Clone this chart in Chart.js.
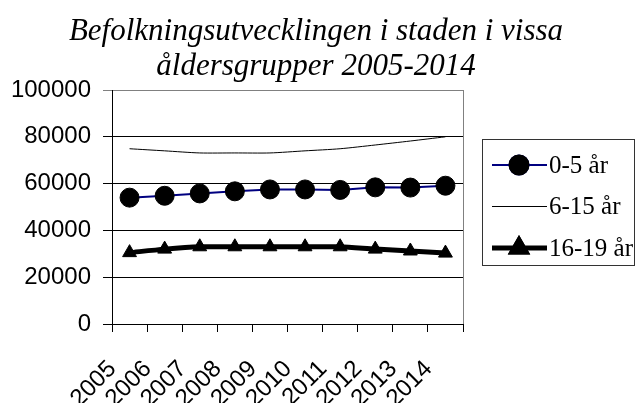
<!DOCTYPE html>
<html>
<head>
<meta charset="utf-8">
<script src="https://cdn.jsdelivr.net/npm/chart.js@4"></script>
<style>
  html, body { margin: 0; padding: 0; background: #fff; }
  #wrap { width: 639px; height: 403px; }
</style>
</head>
<body>
<div id="wrap"><canvas id="popChart" width="639" height="403"></canvas></div>
<script>
// data
const years = ['2005', '2006', '2007', '2008', '2009', '2010', '2011', '2012', '2013', '2014'];
const age0to5 = [54000, 54800, 55800, 56700, 57500, 57500, 57300, 58400, 58300, 59100];
const age6to15 = [74900, 74000, 73100, 73100, 73100, 74000, 74900, 76500, 78200, 80000];
const age16to19 = [30500, 32000, 33000, 33000, 33000, 33000, 33000, 32000, 31200, 30300];
const titleLines = ['Befolkningsutvecklingen i staden i vissa', 'åldersgrupper 2005-2014'];

// title, legend box and the grey right frame line
const extras = {
    id: 'extras',
    afterDraw(chart) {
        const ctx = chart.ctx;
        const area = chart.chartArea;
        ctx.save();

        // right frame
        ctx.strokeStyle = '#808080';
        ctx.lineWidth = 1;
        ctx.beginPath();
        ctx.moveTo(area.right + 0.5, area.top);
        ctx.lineTo(area.right + 0.5, area.bottom);
        ctx.stroke();

        // title
        ctx.fillStyle = '#000';
        ctx.font = 'italic 31px "Liberation Serif", "Times New Roman", serif';
        ctx.textAlign = 'center';
        ctx.textBaseline = 'alphabetic';
        titleLines.forEach((line, i) => ctx.fillText(line, 316, 40 + i * 35));

        // legend
        const box = { x: 482, y: 139, w: 152, h: 126 };
        ctx.strokeStyle = '#333';
        ctx.strokeRect(box.x + 0.5, box.y + 0.5, box.w, box.h);
        ctx.font = '25px "Liberation Serif", "Times New Roman", serif';
        ctx.textAlign = 'left';
        ctx.textBaseline = 'middle';
        chart.data.datasets.forEach((ds, i) => {
            const y = 165 + i * 41.5;
            ctx.strokeStyle = ds.borderColor;
            ctx.lineWidth = ds.borderWidth;
            ctx.beginPath();
            ctx.moveTo(492, y);
            ctx.lineTo(547, y);
            ctx.stroke();
            if (ds.pointRadius > 0) {
                Chart.helpers.drawPoint(ctx, {
                    pointStyle: ds.pointStyle,
                    radius: ds.pointRadius,
                    borderWidth: 1,
                    rotation: 0
                }, 519, y);
                ctx.fillStyle = ds.pointBackgroundColor;
                ctx.strokeStyle = ds.pointBorderColor;
                ctx.fill();
                ctx.stroke();
            }
            ctx.fillStyle = '#000';
            ctx.fillText(ds.label, 549, y + 1);
        });
        ctx.restore();
    }
};

const ctxPop = document.getElementById('popChart').getContext('2d');
const popChart = new Chart(ctxPop, {
    type: 'line',
    data: {
        labels: years,
        datasets: [
            {
                label: '0-5 år', data: age0to5,
                borderColor: '#000080', borderWidth: 2, tension: 0,
                pointStyle: 'circle', pointRadius: 9.5,
                pointBackgroundColor: '#000', pointBorderColor: '#000', pointBorderWidth: 1
            },
            {
                label: '6-15 år', data: age6to15,
                borderColor: '#000', borderWidth: 1, tension: 0.25,
                pointRadius: 0
            },
            {
                label: '16-19 år', data: age16to19,
                borderColor: '#000', borderWidth: 5, tension: 0.25,
                pointStyle: 'triangle', pointRadius: 8,
                pointBackgroundColor: '#000', pointBorderColor: '#000', pointBorderWidth: 1
            }
        ]
    },
    options: {
        responsive: false,
        animation: false,
        layout: { padding: { top: 90, right: 176, bottom: 0, left: 0 } },
        plugins: {
            legend: { display: false },
            title: { display: false },
            tooltip: { enabled: false }
        },
        scales: {
            x: {
                offset: true,
                afterFit: (scale) => { scale.height = 79; },
                grid: { offset: true, drawOnChartArea: false, drawTicks: true, tickLength: 8, color: '#000' },
                border: { color: '#000', width: 1 },
                ticks: {
                    color: '#000', maxRotation: 45, minRotation: 45, padding: 23, labelOffset: -17,
                    autoSkip: false,
                    font: { family: '"Liberation Sans", Arial, sans-serif', size: 24 }
                }
            },
            y: {
                min: 0, max: 100000,
                afterFit: (scale) => { scale.width = 112; },
                grid: {
                    color: (c) => (c.tick && c.tick.value === 100000 ? '#808080' : '#000'),
                    tickLength: 9, lineWidth: 1
                },
                border: { color: '#000', width: 1 },
                ticks: {
                    stepSize: 20000, color: '#000', padding: 12,
                    callback: (v) => String(v),
                    font: { family: '"Liberation Sans", Arial, sans-serif', size: 24 }
                }
            }
        }
    },
    plugins: [extras]
});
</script>
</body>
</html>
